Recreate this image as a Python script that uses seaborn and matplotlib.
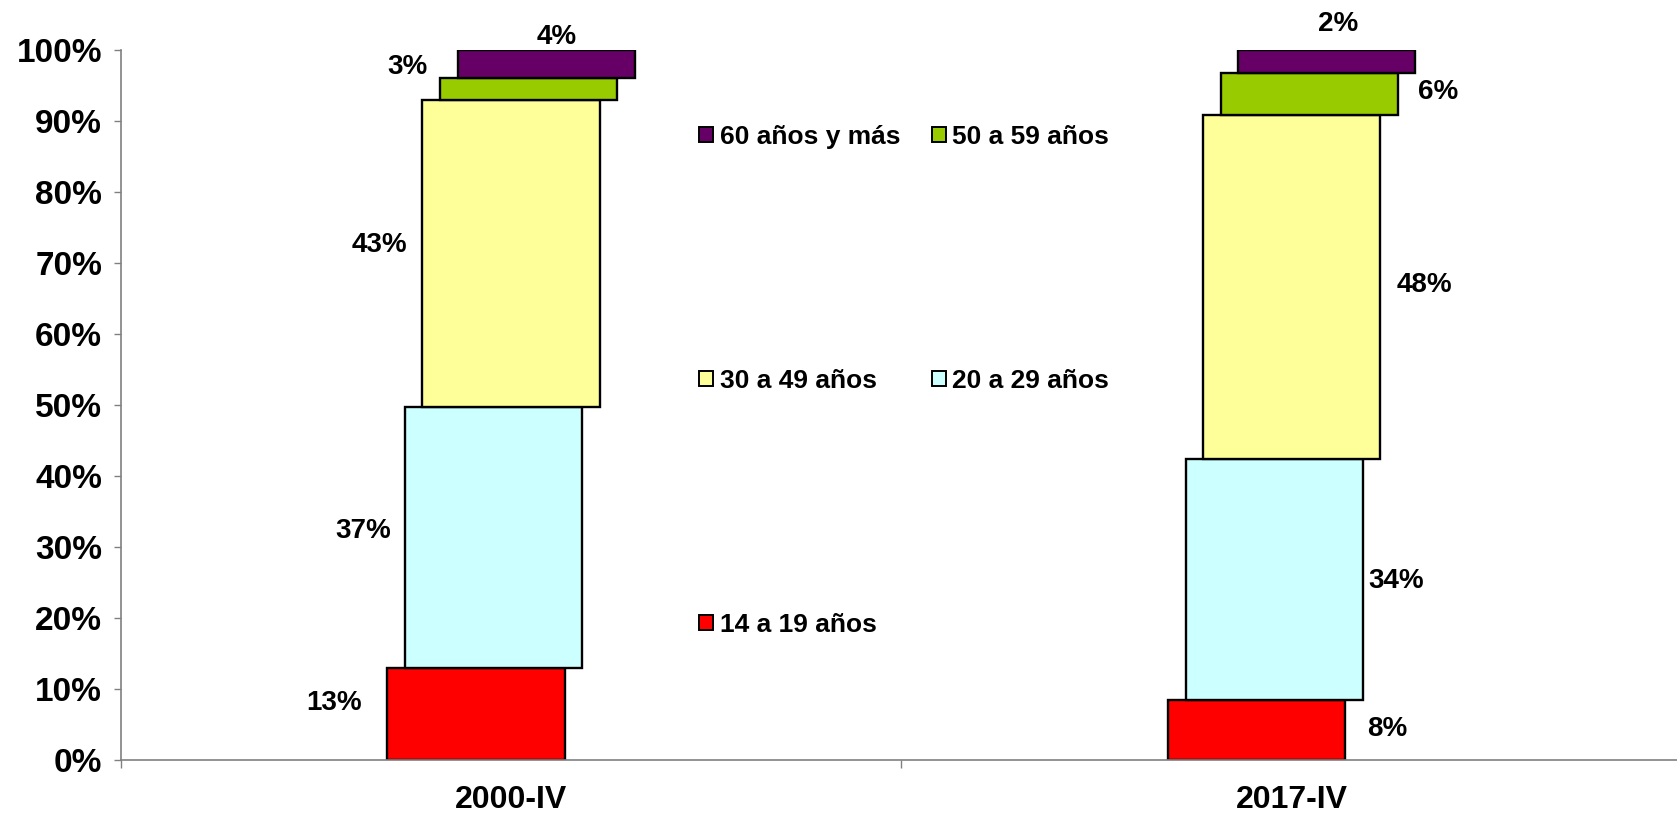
import numpy as np
import matplotlib
matplotlib.use("Agg")
import matplotlib.pyplot as plt
from matplotlib.patches import Patch
import seaborn as sns

periods = ["2000-IV", "2017-IV"]
groups = ["14 a 19 años", "20 a 29 años", "30 a 49 años", "50 a 59 años", "60 años y más"]
shares_2000 = [12.9, 36.8, 43.3, 3.1, 3.9]
shares_2017 = [8.4, 34.0, 48.4, 6.0, 3.2]
labels_2000 = ["13%", "37%", "43%", "3%", "4%"]
labels_2017 = ["8%", "34%", "48%", "6%", "2%"]
colors = ["#FF0000", "#CCFFFF", "#FFFF99", "#99CC00", "#660066"]

# where the value labels sit: (x offset from period centre, y in %)
label_pos_2000 = [(-0.227, 8.0), (-0.190, 32.2), (-0.169, 72.6), (-0.133, 97.6), (0.059, 101.8)]
label_pos_2017 = [(0.122, 4.4), (0.134, 25.2), (0.170, 66.9), (0.188, 94.1), (0.060, 103.7)]

sns.set_style("white")
plt.rcParams["font.family"] = ["Liberation Sans", "DejaVu Sans"]
plt.rcParams["font.weight"] = "bold"
plt.rcParams["text.color"] = "black"

fig = plt.figure(figsize=(16.77, 8.15), dpi=100)
ax = fig.add_axes([0.072, 0.0675, 0.931, 0.871])

shares = np.array([shares_2000, shares_2017])
bottoms = np.cumsum(shares, axis=1) - shares
step = 0.0225   # each segment is shifted a bit to the right
bar_w = 0.227

for i, grp in enumerate(groups):
    sns.barplot(x=np.arange(len(periods)) + (i - 2) * step, y=shares[:, i],
                bottom=bottoms[:, i], native_scale=True, width=bar_w,
                color=colors[i], saturation=1, edgecolor="black", linewidth=1.7,
                errorbar=None, orient="x", ax=ax)

# value labels
for j, (labs, poss) in enumerate([(labels_2000, label_pos_2000), (labels_2017, label_pos_2017)]):
    for lab, (dx, y) in zip(labs, poss):
        ax.text(j + dx, y, lab, ha="center", va="center", fontsize=20,
                fontweight="bold", color="black")

ax.set_ylim(0, 100)
ax.set_xlim(-0.5, 1.49)
ax.set_yticks(range(0, 101, 10))
ax.set_yticklabels([f"{v}%" for v in range(0, 101, 10)], fontsize=24, fontweight="bold")
ax.tick_params(axis="y", left=True, length=5.4, width=1, color="#808080", pad=8,
               direction="out", labelcolor="black")
ax.set_xticks([0, 1])
ax.set_xticklabels(periods, fontsize=23, fontweight="bold")
ax.set_xticks([-0.5, 0.5, 1.5], minor=True)
ax.tick_params(axis="x", which="major", length=0, pad=18, labelcolor="black")
ax.tick_params(axis="x", which="minor", bottom=True, length=5.4, width=1,
               color="#808080", direction="out")
ax.set_xlabel("")
ax.set_ylabel("")
sns.despine(ax=ax)
for s in ["left", "bottom"]:
    ax.spines[s].set_color("#808080")
    ax.spines[s].set_linewidth(1.2)

order = [4, 2, 0, 3, 1]
handles = [Patch(facecolor=colors[i], edgecolor="black", linewidth=1.4, label=groups[i]) for i in order]
fig.legend(handles=handles, ncol=2, loc="upper left", bbox_to_anchor=(0.417, 0.847),
           frameon=False, fontsize=19, handlelength=0.52, handleheight=0.52,
           handletextpad=0.25, labelspacing=8.34, columnspacing=1.2,
           borderpad=0, borderaxespad=0)

fig.savefig("out.png", dpi=100)
